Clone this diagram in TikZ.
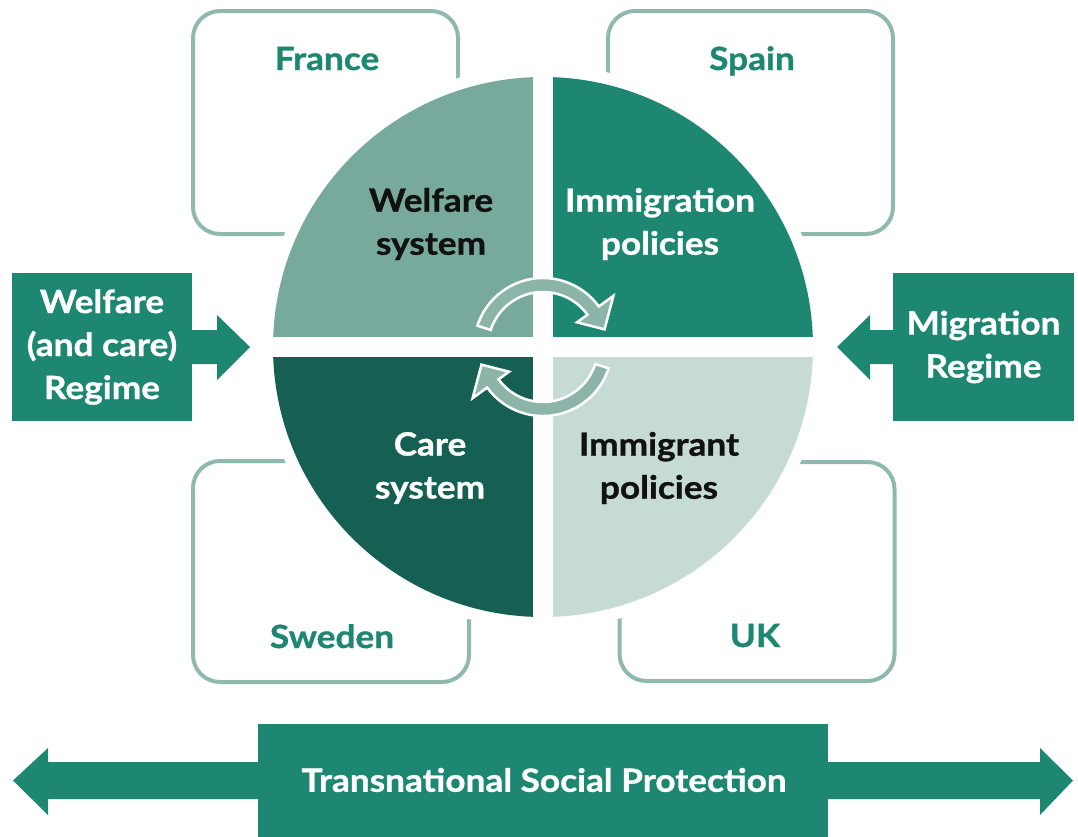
\documentclass[tikz,border=0pt]{standalone}
\usepackage{fontspec}
\setmainfont{Lato}[FakeStretch=1.1, BoldFeatures={FakeBold=1.0}]
\usetikzlibrary{calc}

\definecolor{regteal}{HTML}{1D8771}
\definecolor{qtl}{HTML}{77A99C}
\definecolor{qtr}{HTML}{1D8771}
\definecolor{qbl}{HTML}{155F53}
\definecolor{qbr}{HTML}{C7DBD5}
\definecolor{boxline}{HTML}{8FB9AD}
\definecolor{cycfill}{HTML}{8DB4A9}
\definecolor{inkdark}{HTML}{111111}

\tikzset{
  countrybox/.style={draw=boxline, line width=4pt, rounded corners=27pt, inner sep=0pt},
  countrylabel/.style={text=regteal, font=\bfseries\fontsize{32}{40}\selectfont, inner sep=0pt, anchor=base},
  bigtext/.style={font=\bfseries\fontsize{32}{43}\selectfont, align=center, inner sep=0pt},
  regimebox/.style={fill=regteal, inner sep=0pt},
  blockarrow/.style={fill=regteal},
  cyclearrow/.style={fill=cycfill, draw=white, line width=2.5pt, line join=miter},
}

\begin{document}
\begin{tikzpicture}[x=1pt, y=-1pt]
\useasboundingbox (0,0) rectangle (1078,836);

% country frames
\node[countrybox, minimum width=265pt, minimum height=223pt] (france) at (325.5,122.5) {};
\node[countrybox, minimum width=285pt, minimum height=223pt] (spain)  at (750.5,122.5) {};
\node[countrybox, minimum width=276pt, minimum height=221pt] (sweden) at (331,571.5) {};
\node[countrybox, minimum width=275pt, minimum height=219pt] (uk)     at (757,571.5) {};

\node[countrylabel] (francet) at (327,70)  {France};
\node[countrylabel] (spaint)  at (752,70)  {Spain};
\node[countrylabel] (swedent) at (332,648) {Sweden};
\node[countrylabel] (ukt)     at (755,647) {UK};

% white margin around the disc
\coordinate (c) at (543,347);
\fill[white] (c) circle[radius=282pt];

% four quadrants of the disc
\begin{scope}
  \clip (c) circle[radius=270pt];
  \fill[qtl] (270,70)  rectangle (533,337);
  \fill[qtr] (553,70)  rectangle (820,337);
  \fill[qbl] (270,357) rectangle (533,625);
  \fill[qbr] (553,357) rectangle (820,625);
\end{scope}

% circular arrows in the middle
\begin{scope}[shift={(543,347)}, x=1pt, y=1pt]
  \filldraw[cyclearrow] (162:69) arc[start angle=162, end angle=36, radius=69]
    -- (36:87) -- (16:64) -- (36:42) -- (36:55)
    arc[start angle=36, end angle=162, radius=55] -- cycle;
  \filldraw[cyclearrow] (-18:69) arc[start angle=-18, end angle=-144, radius=69]
    -- (-144:87) -- (-164:64) -- (-144:42) -- (-144:55)
    arc[start angle=-144, end angle=-18, radius=55] -- cycle;
\end{scope}

% quadrant labels
\node[bigtext, text=inkdark] (welfsys) at (431,224) {Welfare\\system};
\node[bigtext, text=white]   (immpol)  at (660,224) {Immigration\\policies};
\node[bigtext, text=white]   (caresys) at (430,468) {Care\\system};
\node[bigtext, text=inkdark] (immtpol) at (659,468) {Immigrant\\policies};

% regime block arrows
\node[regimebox, minimum width=180pt, minimum height=148pt] (welfreg) at (102,347) {};
\fill[blockarrow] (welfreg.east) ++(-1,-17) -- (217,330) -- (217,315) -- (250,347)
  -- (217,380) -- (217,364) -- ($(welfreg.east)+(-1,17)$) -- cycle;
\node[bigtext, text=white] (welfregt) at (welfreg) {Welfare\\(and care)\\Regime};

\node[regimebox, minimum width=181pt, minimum height=148pt] (migreg) at (983.5,347) {};
\fill[blockarrow] (migreg.west) ++(1,-17) -- (870,330) -- (870,315) -- (837,347)
  -- (870,380) -- (870,364) -- ($(migreg.west)+(1,17)$) -- cycle;
\node[bigtext, text=white] (migregt) at (migreg) {Migration\\Regime};

% transnational double arrow
\node[regimebox, minimum width=570pt, minimum height=114pt] (tsp) at (543,781) {};
\fill[blockarrow] (48,762) -- (1040,762) -- (1040,748) -- (1073,780.5) -- (1040,815)
  -- (1040,799) -- (48,799) -- (48,815) -- (13,780.5) -- (48,748) -- cycle;
\node[bigtext, text=white] (tspt) at (544,780) {Transnational Social Protection};

\end{tikzpicture}
\end{document}
